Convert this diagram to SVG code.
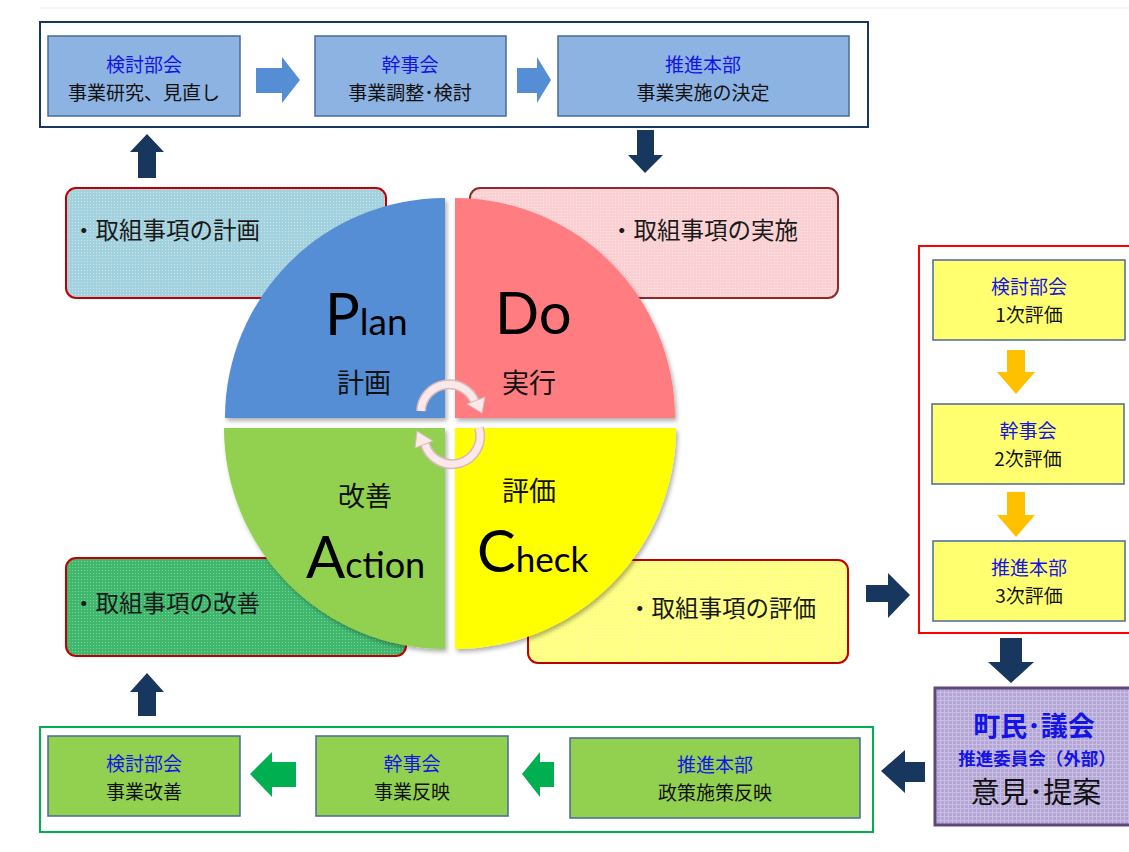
<svg xmlns="http://www.w3.org/2000/svg" width="1129" height="852" viewBox="0 0 1129 852">
<defs>
<style>
.jp{font-family:"Noto Sans CJK JP","Noto Sans",sans-serif;}
.bt{font-size:19px;text-anchor:middle;}
.blue{fill:#1414e6;}
.blk{fill:#111;}
.box-b{fill:#8db3e2;stroke:#4a6a9a;stroke-width:1.5;}
.box-y{fill:#ffff70;stroke:#4a6a9a;stroke-width:1.5;}
.box-g{fill:#92d050;stroke:#4a6a9a;stroke-width:1.5;}
.navy{fill:#17375e;}
.card{font-size:23.5px;fill:#1a1a1a;}
.latin{font-family:Lato,"Open Sans",sans-serif;fill:#000;}
.arc-o{fill:none;stroke:#d9b9b9;stroke-width:10;}
.arc-i{fill:none;stroke:#fbe9e9;stroke-width:7;}
</style>
<pattern id="dotB" width="3" height="3" patternUnits="userSpaceOnUse"><rect width="3" height="3" fill="#a3d1dd"/><rect width="1" height="1" fill="#c6e4ec"/></pattern>
<pattern id="dotR" width="3" height="3" patternUnits="userSpaceOnUse"><rect width="3" height="3" fill="#fbd0d2"/><rect width="1" height="1" fill="#fde6e7"/></pattern>
<pattern id="dotG" width="3" height="3" patternUnits="userSpaceOnUse"><rect width="3" height="3" fill="#3fb86e"/><rect width="1" height="1" fill="#7fd29e"/></pattern>
<pattern id="dotY" width="3" height="3" patternUnits="userSpaceOnUse"><rect width="3" height="3" fill="#ffff80"/><rect width="1" height="1" fill="#ffffc0"/></pattern>
<pattern id="gridP" width="4" height="4" patternUnits="userSpaceOnUse"><rect width="4" height="4" fill="#b3a5d6"/><rect width="4" height="1" fill="#c9bfe3"/><rect width="1" height="4" fill="#c9bfe3"/></pattern>
<filter id="sh" x="-10%" y="-10%" width="130%" height="130%"><feDropShadow dx="2" dy="3" stdDeviation="2" flood-color="#000" flood-opacity="0.3"/></filter>
</defs>
<rect width="1129" height="852" fill="#fff"/>
<line x1="40" y1="8" x2="1129" y2="8" stroke="#ececec" stroke-width="1"/>

<!-- Top group -->
<g id="top-frame"><rect x="40" y="22" width="828" height="105" fill="#fff" stroke="#17375e" stroke-width="2"/></g>
<g id="top-kentou"><rect class="box-b" x="48" y="36" width="192" height="80"/><text class="jp bt blue" x="144" y="72">検討部会</text><text class="jp bt blk" x="144" y="100">事業研究、見直し</text></g>
<g id="top-kanji"><rect class="box-b" x="315" y="36" width="191" height="80"/><text class="jp bt blue" x="410" y="72">幹事会</text><text class="jp bt blk" x="410" y="100">事業調整･検討</text></g>
<g id="top-suishin"><rect class="box-b" x="558" y="36" width="291" height="80"/><text class="jp bt blue" x="703" y="72">推進本部</text><text class="jp bt blk" x="703" y="100">事業実施の決定</text></g>

<!-- Cards -->
<g id="card-plan"><rect x="66" y="188" width="320" height="110" rx="10" fill="url(#dotB)" stroke="#c00000" stroke-width="2"/><text class="jp card" x="72" y="239">・取組事項の計画</text></g>
<g id="card-do"><rect x="470" y="188" width="368" height="110" rx="10" fill="url(#dotR)" stroke="#8b2a2a" stroke-width="2"/><text class="jp card" x="610" y="239">・取組事項の実施</text></g>
<g id="card-action"><rect x="66" y="558" width="340" height="98" rx="10" fill="url(#dotG)" stroke="#c00000" stroke-width="2"/><text class="jp card" x="72" y="612">・取組事項の改善</text></g>
<g id="card-check"><rect x="528" y="560" width="320" height="103" rx="10" fill="url(#dotY)" stroke="#c00000" stroke-width="2"/><text class="jp card" x="628" y="617">・取組事項の評価</text></g>

<!-- PDCA circle -->
<g id="pdca">
<path d="M445 418 L225 418 A220 220 0 0 1 445 198 Z" fill="#558ed5" filter="url(#sh)"/>
<path d="M455 418 L455 198 A220 220 0 0 1 675 418 Z" fill="#ff7c80" filter="url(#sh)"/>
<path d="M445 428 L445 649 A221 221 0 0 1 224 428 Z" fill="#92d050" filter="url(#sh)"/>
<path d="M455 428 L676 428 A221 221 0 0 1 455 649 Z" fill="#ffff00" filter="url(#sh)"/>
<text class="latin" x="325" y="335"><tspan font-size="58">P</tspan><tspan font-size="37">lan</tspan></text>
<text class="latin" x="495" y="334" font-size="58">Do</text>
<text class="latin" x="306" y="578"><tspan font-size="58">A</tspan><tspan font-size="36">ction</tspan></text>
<text class="latin" x="477" y="572"><tspan font-size="58">C</tspan><tspan font-size="35">heck</tspan></text>
<text class="jp" x="337" y="393" font-size="27" fill="#111">計画</text>
<text class="jp" x="502" y="393" font-size="27" fill="#111">実行</text>
<text class="jp" x="338" y="506" font-size="27" fill="#111">改善</text>
<text class="jp" x="502" y="501" font-size="27" fill="#111">評価</text>
<path class="arc-o" d="M421 411 A28 28 0 0 1 475 402"/>
<path class="arc-i" d="M421 411 A28 28 0 0 1 475 402"/>
<polygon points="482,413 485,397 467,404" fill="#fbe9e9" stroke="#d9b9b9" stroke-width="1"/>
<path class="arc-o" d="M479 428 A28 28 0 0 1 425 444"/>
<path class="arc-i" d="M479 428 A28 28 0 0 1 425 444"/>
<polygon points="417,431 415,448 433,441" fill="#fbe9e9" stroke="#d9b9b9" stroke-width="1"/>
</g>

<!-- Right evaluation group -->
<g id="eval-frame"><rect x="919" y="246" width="212" height="387" fill="#fff" stroke="#ff0000" stroke-width="2"/></g>
<g id="eval-1"><rect class="box-y" x="933" y="260" width="192" height="80"/><text class="jp bt blue" x="1029" y="294">検討部会</text><text class="jp bt blk" x="1029" y="322">1次評価</text></g>
<g id="eval-2"><rect class="box-y" x="932" y="404" width="192" height="80"/><text class="jp bt blue" x="1028" y="438">幹事会</text><text class="jp bt blk" x="1028" y="466">2次評価</text></g>
<g id="eval-3"><rect class="box-y" x="933" y="541" width="192" height="80"/><text class="jp bt blue" x="1029" y="575">推進本部</text><text class="jp bt blk" x="1029" y="603">3次評価</text></g>

<!-- Purple -->
<g id="opinion"><rect x="935" y="688" width="200" height="137" fill="url(#gridP)" stroke="#5f497a" stroke-width="3"/>
<text class="jp" x="1034" y="736" font-size="27" font-weight="bold" fill="#1414e6" text-anchor="middle">町民･議会</text>
<text class="jp" x="1037" y="765" font-size="17.5" font-weight="bold" fill="#1414e6" text-anchor="middle">推進委員会（外部）</text>
<text class="jp" x="1036" y="803" font-size="29" fill="#111" text-anchor="middle">意見･提案</text></g>

<!-- Bottom group -->
<g id="bottom-frame"><rect x="40" y="727" width="833" height="105" fill="#fff" stroke="#00b050" stroke-width="2"/></g>
<g id="bot-kentou"><rect class="box-g" x="48" y="736" width="192" height="80"/><text class="jp bt blue" x="144" y="771">検討部会</text><text class="jp bt blk" x="144" y="799">事業改善</text></g>
<g id="bot-kanji"><rect class="box-g" x="316" y="736" width="192" height="80"/><text class="jp bt blue" x="412" y="771">幹事会</text><text class="jp bt blk" x="412" y="799">事業反映</text></g>
<g id="bot-suishin"><rect class="box-g" x="570" y="738" width="290" height="80"/><text class="jp bt blue" x="715" y="772">推進本部</text><text class="jp bt blk" x="715" y="800">政策施策反映</text></g>

<!-- Connectors -->
<g id="connectors">
<polygon fill="#558ed5" points="256,68 282,68 282,57 300,80 282,103 282,93 256,93"/>
<polygon fill="#558ed5" points="517,68 537,68 537,57 551,80 537,103 537,93 517,93"/>
<polygon class="navy" points="147,134 164,152 156,152 156,178 138,178 138,152 130,152"/>
<polygon class="navy" points="637,130 654,130 654,155 663,155 645,173 628,155 637,155"/>
<polygon class="navy" points="147,673 164,692 156,692 156,716 138,716 138,692 130,692"/>
<polygon class="navy" points="866,585 888,585 888,573 910,595 888,618 888,602 866,602"/>
<polygon fill="#ffc000" points="1007,350 1025,350 1025,372 1035,372 1016,394 997,372 1007,372"/>
<polygon fill="#ffc000" points="1007,492 1025,492 1025,515 1035,515 1016,537 997,515 1007,515"/>
<polygon class="navy" points="1000,638 1022,638 1022,662 1034,662 1011,683 988,662 1000,662"/>
<polygon class="navy" points="925,762 905,762 905,750 881,771 905,793 905,782 925,782"/>
<polygon fill="#00b050" points="296,762 272,762 272,752 250,774 272,797 272,787 296,787"/>
<polygon fill="#00b050" points="554,762 540,762 540,752 522,774 540,797 540,787 554,787"/>
</g>
</svg>
